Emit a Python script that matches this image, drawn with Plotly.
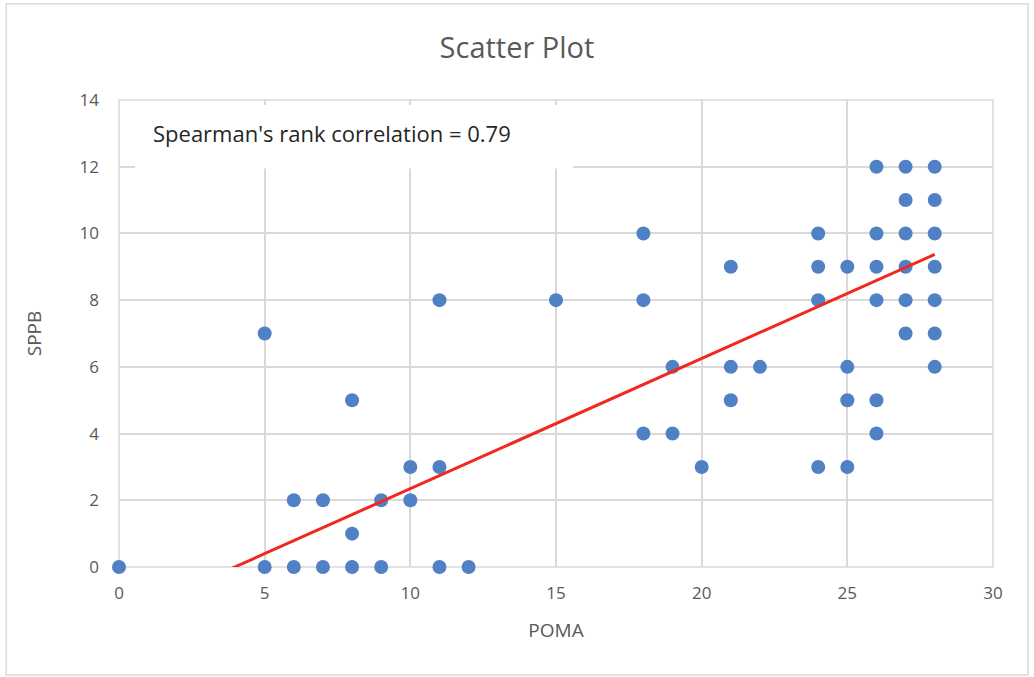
import plotly.graph_objects as go

poma = [0, 5, 5, 6, 6, 7, 7, 8, 8, 8, 9, 9, 10, 10, 11, 11, 11, 12, 15,
        18, 18, 18, 19, 19, 20, 21, 21, 21, 22, 24, 24, 24, 24, 25, 25, 25, 25,
        26, 26, 26, 26, 26, 26, 27, 27, 27, 27, 27, 27,
        28, 28, 28, 28, 28, 28, 28]
sppb = [0, 7, 0, 2, 0, 2, 0, 5, 1, 0, 2, 0, 3, 2, 8, 3, 0, 0, 8,
        10, 8, 4, 6, 4, 3, 9, 6, 5, 6, 10, 9, 8, 3, 9, 6, 5, 3,
        12, 10, 9, 8, 5, 4, 12, 11, 10, 9, 8, 7,
        12, 11, 10, 9, 8, 7, 6]

trend_x = [0, 28]
trend_y = [-1.55, 9.37]

x_ticks = [0, 5, 10, 15, 20, 25, 30]
y_ticks = [0, 2, 4, 6, 8, 10, 12, 14]

FONT = "Open Sans"
GRID = "#d9d9d9"
TXT = "#595959"

fig = go.Figure()
fig.add_trace(go.Scatter(x=poma, y=sppb, mode="markers",
                         marker=dict(size=14, color="#4f81c4"),
                         showlegend=False, cliponaxis=False))
fig.add_trace(go.Scatter(x=trend_x, y=trend_y, mode="lines",
                         line=dict(color="#f0281e", width=3),
                         showlegend=False))

fig.update_layout(
    width=1034, height=677,
    paper_bgcolor="white", plot_bgcolor="white",
    margin=dict(l=119, r=41, t=100, b=110),
    font=dict(family=FONT, color=TXT),
    title=dict(text="Scatter Plot", x=0.5, xanchor="center", y=0.93, yanchor="middle",
               font=dict(size=29, color=TXT, family=FONT)),
    xaxis=dict(range=[0, 30], tickvals=x_ticks, showgrid=True, gridcolor=GRID, gridwidth=1.5,
               zeroline=False, showline=False, ticks="", ticklabelstandoff=14,
               tickfont=dict(size=17, color=TXT),
               title=dict(text="POMA", font=dict(size=19, color=TXT), standoff=20)),
    yaxis=dict(range=[0, 14], tickvals=y_ticks, showgrid=True, gridcolor=GRID, gridwidth=1.5,
               zeroline=False, showline=False, ticks="", ticklabelstandoff=19,
               tickfont=dict(size=17, color=TXT),
               title=dict(text="SPPB", font=dict(size=19, color=TXT), standoff=32)),
    shapes=[
        dict(type="rect", xref="x", yref="y", x0=0.55, x1=15.6, y0=11.95, y1=13.85,
             line=dict(width=0), fillcolor="white", layer="between"),
        dict(type="rect", xref="paper", yref="paper", x0=0, x1=1, y0=0, y1=1,
             line=dict(color=GRID, width=1.5), fillcolor="rgba(0,0,0,0)", layer="between"),
        dict(type="rect", xref="paper", yref="paper", x0=-0.129, x1=1.040, y0=-0.231, y1=1.206,
             line=dict(color=GRID, width=1.5), fillcolor="rgba(0,0,0,0)", layer="below"),
    ],
    annotations=[
        dict(text="Spearman's rank correlation = 0.79", xref="x", yref="y",
             x=1.1, y=13.0, xanchor="left", yanchor="middle", showarrow=False,
             font=dict(size=22, color="#262626", family=FONT)),
    ],
)

fig.write_html("out.html", config={"displayModeBar": False},
               post_script="document.body.style.margin='0';document.body.style.overflow='hidden';")
